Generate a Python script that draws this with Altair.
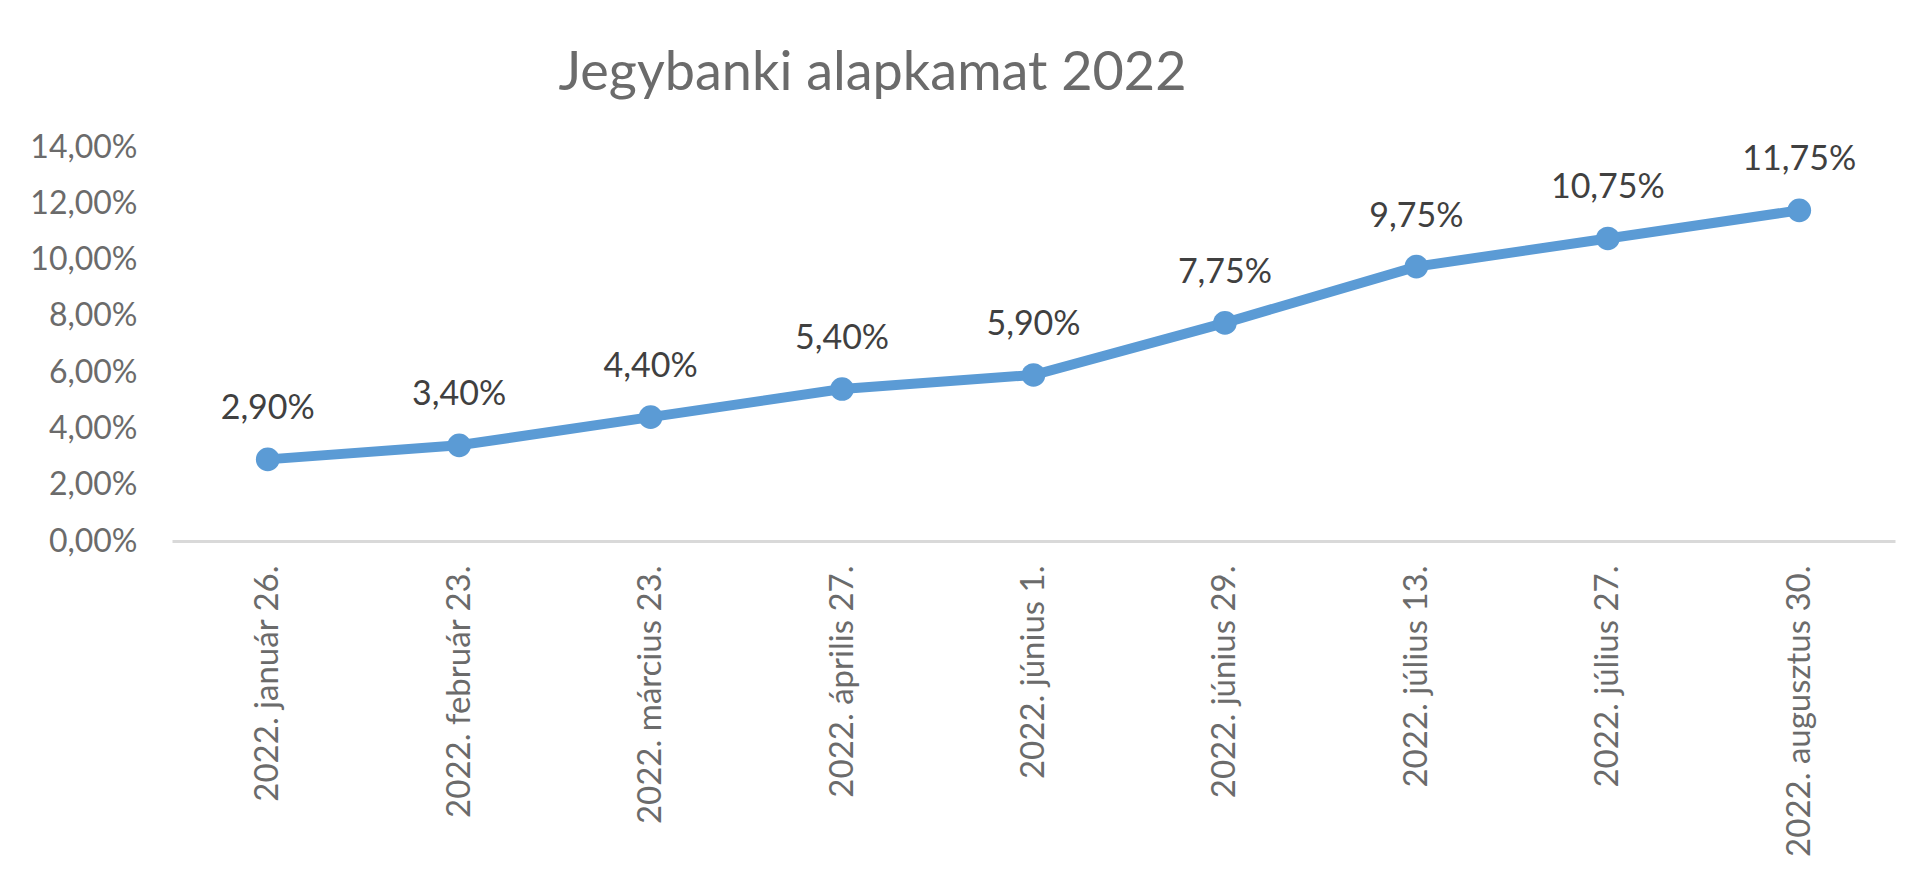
import altair as alt
import pandas as pd

dates = [
    "2022. január 26.",
    "2022. február 23.",
    "2022. március 23.",
    "2022. április 27.",
    "2022. június 1.",
    "2022. június 29.",
    "2022. július 13.",
    "2022. július 27.",
    "2022. augusztus 30.",
]
rates = [0.029, 0.034, 0.044, 0.054, 0.059, 0.0775, 0.0975, 0.1075, 0.1175]
y_ticks = [0.0, 0.02, 0.04, 0.06, 0.08, 0.10, 0.12, 0.14]

df = pd.DataFrame({"date": dates, "rate": rates})

FONT = "Lato"
BLUE = "#5B9BD5"
GRAY = "#6b6b6b"

base = alt.Chart(df).encode(
    x=alt.X(
        "date:N",
        sort=None,
        title=None,
        axis=alt.Axis(
            labelAngle=-90,
            labelFont=FONT,
            labelFontSize=33,
            labelColor=GRAY,
            labelPadding=24,
            labelLimit=0,
            ticks=False,
            domainColor="#d9d9d9",
            domainWidth=3,
            grid=False,
        ),
    ),
    y=alt.Y(
        "rate:Q",
        title=None,
        scale=alt.Scale(domain=[0, 0.14], nice=False),
        axis=alt.Axis(
            values=y_ticks,
            labelExpr="replace(format(datum.value, '.2%'), '.', ',')",
            labelFont=FONT,
            labelFontSize=32,
            labelColor=GRAY,
            labelPadding=35,
            ticks=False,
            domain=False,
            grid=False,
        ),
    ),
)

line = base.mark_line(
    color=BLUE,
    strokeWidth=10,
    point=alt.OverlayMarkDef(filled=True, color=BLUE, size=560, opacity=1),
)

labels = base.transform_calculate(
    lab="replace(format(datum.rate, '.2%'), '.', ',')"
).mark_text(
    dy=-50,
    font=FONT,
    fontSize=34,
    color="#404040",
    align="center",
    baseline="middle",
).encode(text="lab:N")

chart = (
    alt.layer(line, labels)
    .properties(
        width=1723,
        height=394,
        background="white",
        title=alt.TitleParams(
            text="Jegybanki alapkamat 2022",
            font=FONT,
            fontSize=54,
            fontWeight="normal",
            color=GRAY,
            anchor="middle",
            frame="group",
            dx=-161,
            offset=30,
        ),
        autosize=alt.AutoSizeParams(type="none"),
        padding={"left": 164, "top": 139, "right": 20, "bottom": 330},
    )
    .configure_view(strokeWidth=0, stroke=None)
)

chart.save("out.html", embed_options={"renderer": "svg", "actions": False})
